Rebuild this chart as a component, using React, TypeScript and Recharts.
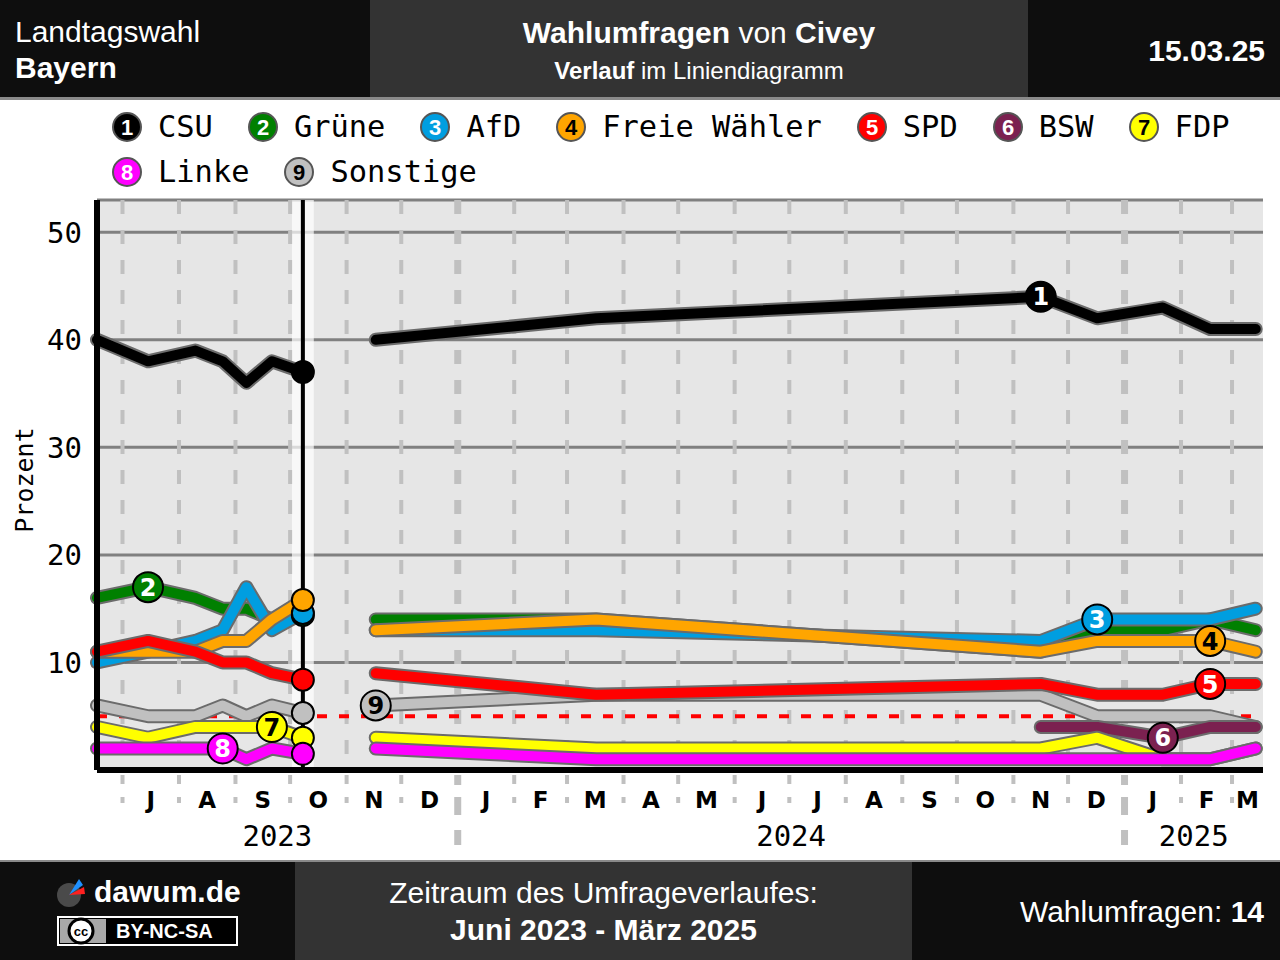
import React from 'react'
import {
  LineChart,
  Line,
  XAxis,
  YAxis,
  CartesianGrid,
  ReferenceLine,
  ReferenceArea,
  ReferenceDot,
} from 'recharts'

// field dates of the Civey polls; index 6 is the election result of 08.10.2023
const rowDates = [
  '2023-06-17', '2023-07-15', '2023-08-10', '2023-08-25', '2023-09-07', '2023-09-21',
  '2023-10-08',
  '2023-11-17', '2024-03-17', '2024-11-16', '2024-12-17', '2025-01-22', '2025-02-17', '2025-03-14',
]
const electionIndex = 6
const gapDate = '2023-10-25'
const domainStart = '2023-06-17'
const domainEnd = '2025-03-18'

const parties = ['CSU', 'Grüne', 'AfD', 'Freie Wähler', 'SPD', 'BSW', 'FDP', 'Linke', 'Sonstige']
const colors = ['#000000', '#008000', '#009ee0', '#ffa500', '#ff0000', '#7b2150', '#ffff00', '#ff00ff', '#c0c0c0']
const numberColors = ['#fff', '#fff', '#fff', '#000', '#fff', '#fff', '#000', '#fff', '#000']

const csu = [40, 38, 39, 38, 36, 38, 37.0, 40, 42, 44, 42, 43, 41, 41]
const gruene = [16, 17, 16, 15, 15, 14, 14.4, 14, 14, 11, 13, 13, 14, 13]
const afd = [10, 11, 12, 13, 17, 13, 14.6, 13, 13, 12, 14, 14, 14, 15]
const fw = [11, 11, 11, 12, 12, 14, 15.8, 13, 14, 11, 12, 12, 12, 11]
const spd = [11, 12, 11, 10, 10, 9, 8.4, 9, 7, 8, 7, 7, 8, 8]
const bsw = [null, null, null, null, null, null, null, null, null, 4, 4, 3, 4, 4]
const fdp = [4, 3, 4, 4, 4, 4, 3.0, 3, 2, 2, 3, 1, 1, 2]
const linke = [2, 2, 2, 2, 1, 2, 1.5, 2, 1, 1, 1, 1, 1, 2]
const sonstige = [6, 5, 5, 6, 5, 6, 5.3, 6, 7, 7, 5, 5, 5, 4]
const series = [csu, gruene, afd, fw, spd, bsw, fdp, linke, sonstige]

// which row carries the numbered badge of each party
const labelIndex = [9, 1, 10, 12, 12, 11, 5, 3, 7]
const drawOrder = [8, 0, 1, 2, 3, 4, 5, 6, 7]

const monthStarts = [
  '2023-07-01', '2023-08-01', '2023-09-01', '2023-10-01', '2023-11-01', '2023-12-01',
  '2024-01-01', '2024-02-01', '2024-03-01', '2024-04-01', '2024-05-01', '2024-06-01',
  '2024-07-01', '2024-08-01', '2024-09-01', '2024-10-01', '2024-11-01', '2024-12-01',
  '2025-01-01', '2025-02-01', '2025-03-01',
]
const monthLetters = ['J', 'A', 'S', 'O', 'N', 'D', 'J', 'F', 'M', 'A', 'M', 'J', 'J', 'A', 'S', 'O', 'N', 'D', 'J', 'F', 'M']
const afterLastMonth = '2025-04-01'
const years = ['2023', '2024', '2025']
const yearStarts = ['2023-01-01', '2024-01-01', '2025-01-01', '2026-01-01']
const yTicks = [10, 20, 30, 40, 50]
const threshold = 5

const day = (s: string) =>
  Date.UTC(Number(s.slice(0, 4)), Number(s.slice(5, 7)) - 1, Number(s.slice(8, 10))) / 86400000

const xMin = day(domainStart)
const xMax = day(domainEnd)

const data: Record<string, number | null | undefined>[] = []
rowDates.forEach((d, i) => {
  const row: Record<string, number | null | undefined> = { t: day(d) }
  series.forEach((s, p) => (row['p' + p] = s[i]))
  data.push(row)
  if (i === electionIndex) data.push({ t: day(gapDate) })
})

type TickInfo = { kind: 'start' | 'month' | 'year'; label: string; jan?: boolean }
const tickInfo = new Map<number, TickInfo>()
monthStarts.forEach((m, i) => {
  const s = day(m)
  const e = day(monthStarts[i + 1] ?? afterLastMonth)
  tickInfo.set(s, { kind: 'start', label: '', jan: m.slice(5, 7) === '01' })
  const mid = (Math.max(s, xMin) + Math.min(e, xMax)) / 2
  tickInfo.set(mid, { kind: 'month', label: monthLetters[i] })
})
years.forEach((y, i) => {
  const mid = (Math.max(day(yearStarts[i]), xMin) + Math.min(day(yearStarts[i + 1]), xMax)) / 2
  tickInfo.set(mid + 0.001, { kind: 'year', label: y })
})
const xTicks = [...tickInfo.keys()].sort((a, b) => a - b)

function AxisTick(props: any) {
  const { x, y, payload } = props
  const info = tickInfo.get(payload.value)
  if (!info) return <g />
  if (info.kind === 'month')
    return (
      <text x={x} y={y + 38} textAnchor="middle" fontFamily="DejaVu Sans" fontWeight="bold" fontSize={23} fill="#000">
        {info.label}
      </text>
    )
  if (info.kind === 'year')
    return (
      <text x={x} y={y + 76} textAnchor="middle" fontFamily="DejaVu Sans Mono" fontSize={29} fill="#000">
        {info.label}
      </text>
    )
  if (info.jan)
    return (
      <g fill="#c0c0c0">
        <rect x={x - 3.5} y={y + 5} width={7} height={10} />
        <rect x={x - 3.5} y={y + 27} width={7} height={18} />
        <rect x={x - 3.5} y={y + 60} width={7} height={15} />
      </g>
    )
  return (
    <g fill="#c0c0c0">
      <rect x={x - 2} y={y + 5} width={4} height={9} />
      <rect x={x - 2} y={y + 27} width={4} height={6} />
    </g>
  )
}

function Badge({ cx, cy, p }: { cx: number; cy: number; p: number }) {
  return (
    <g>
      <circle cx={cx} cy={cy} r={15} fill={colors[p]} stroke="#000" strokeWidth={2} />
      <text x={cx} y={cy} dy="0.36em" textAnchor="middle" fontFamily="DejaVu Sans" fontWeight="bold" fontSize={24} fill={numberColors[p]}>
        {p + 1}
      </text>
    </g>
  )
}

const sans = '"Liberation Sans", Arial, sans-serif'

function Header() {
  return (
    <div style={{ position: 'absolute', left: 0, top: 0, width: 1280, height: 100, fontFamily: sans, color: '#fff' }}>
      <div style={{ position: 'absolute', left: 0, top: 0, width: 370, height: 97, background: '#0e0e0e' }}>
        <div style={{ position: 'absolute', left: 15, top: 17, fontSize: 30, lineHeight: '30px' }}>Landtagswahl</div>
        <div style={{ position: 'absolute', left: 15, top: 53, fontSize: 30, lineHeight: '30px', fontWeight: 700 }}>Bayern</div>
      </div>
      <div style={{ position: 'absolute', left: 370, top: 0, width: 658, height: 97, background: '#333333', textAlign: 'center' }}>
        <div style={{ position: 'absolute', left: 0, right: 0, top: 18, fontSize: 30, lineHeight: '30px' }}>
          <b>Wahlumfragen</b> von <b>Civey</b>
        </div>
        <div style={{ position: 'absolute', left: 0, right: 0, top: 59, fontSize: 24, lineHeight: '24px' }}>
          <b>Verlauf</b> im Liniendiagramm
        </div>
      </div>
      <div style={{ position: 'absolute', left: 1028, top: 0, width: 252, height: 97, background: '#0e0e0e' }}>
        <div style={{ position: 'absolute', right: 15, top: 36, fontSize: 30, lineHeight: '30px', fontWeight: 700 }}>15.03.25</div>
      </div>
      <div style={{ position: 'absolute', left: 0, top: 97, width: 1280, height: 3, background: '#8a8a8a' }} />
    </div>
  )
}

function Legend() {
  return (
    <div
      style={{
        position: 'absolute',
        left: 112,
        top: 104,
        width: 1168,
        display: 'flex',
        flexWrap: 'wrap',
        fontFamily: '"DejaVu Sans Mono", monospace',
        fontSize: 30.4,
        lineHeight: '45px',
        color: '#000',
      }}
    >
      {parties.map((name, p) => (
        <div key={name} style={{ display: 'flex', alignItems: 'center', marginRight: 35, height: 45 }}>
          <svg width={30} height={30} style={{ marginRight: 16, overflow: 'visible' }}>
            <circle cx={15} cy={15} r={14} fill={colors[p]} stroke="#555" strokeWidth={2} />
            <text x={15} y={15} dy="0.36em" textAnchor="middle" fontFamily={sans} fontWeight="bold" fontSize={22} fill={numberColors[p]}>
              {p + 1}
            </text>
          </svg>
          <span style={{ whiteSpace: 'pre' }}>{name}</span>
        </div>
      ))}
    </div>
  )
}

function Footer() {
  return (
    <div style={{ position: 'absolute', left: 0, top: 860, width: 1280, height: 100, fontFamily: sans, color: '#fff' }}>
      <div style={{ position: 'absolute', left: 0, top: 0, width: 1280, height: 2, background: '#8a8a8a' }} />
      <div style={{ position: 'absolute', left: 0, top: 2, width: 295, height: 98, background: '#0e0e0e' }}>
        <svg width={295} height={98} style={{ position: 'absolute', left: 0, top: 0 }}>
          <circle cx={69} cy={33} r={12} fill="#4a4a4a" />
          <path d="M69 33 L79 17 L83 23 Z" fill="#1e90ff" />
          <path d="M69 33 L84 25 L85 32 Z" fill="#ff2020" />
          <rect x={58} y={55} width={179} height={28} fill="#000" stroke="#fff" strokeWidth={2} />
          <rect x={60} y={57} width={46} height={24} fill="#a8a8a8" />
          <circle cx={81} cy={69} r={12} fill="#fff" stroke="#000" strokeWidth={3} />
          <text x={81} y={73.5} textAnchor="middle" fontFamily={sans} fontWeight="bold" fontSize={13} fill="#000">
            cc
          </text>
          <text x={116} y={76} fontFamily={sans} fontWeight="bold" fontSize={20} fill="#fff">
            BY-NC-SA
          </text>
        </svg>
        <div style={{ position: 'absolute', left: 94, top: 15, fontSize: 30, lineHeight: '30px', fontWeight: 700 }}>dawum.de</div>
      </div>
      <div style={{ position: 'absolute', left: 295, top: 2, width: 617, height: 98, background: '#333333', textAlign: 'center' }}>
        <div style={{ position: 'absolute', left: 0, right: 0, top: 16, fontSize: 30, lineHeight: '30px' }}>Zeitraum des Umfrageverlaufes:</div>
        <div style={{ position: 'absolute', left: 0, right: 0, top: 53, fontSize: 30, lineHeight: '30px', fontWeight: 700 }}>
          Juni 2023 - März 2025
        </div>
      </div>
      <div style={{ position: 'absolute', left: 912, top: 2, width: 368, height: 98, background: '#0e0e0e' }}>
        <div style={{ position: 'absolute', right: 16, top: 35, fontSize: 30, lineHeight: '30px', whiteSpace: 'nowrap' }}>
          Wahlumfragen: <b>14</b>
        </div>
      </div>
    </div>
  )
}

export default function App() {
  const electionX = rowDates[electionIndex]
  return (
    <div style={{ position: 'absolute', left: 0, top: 0, width: 1280, height: 960, background: '#fff', overflow: 'hidden' }}>
      <div style={{ position: 'absolute', left: 0, top: 0 }}>
        <LineChart width={1280} height={960} data={data} margin={{ top: 200, right: 17, bottom: 100, left: 0 }}>
          <CartesianGrid fill="#e6e6e6" stroke="#808080" strokeWidth={3} vertical={false} />
          {monthStarts.map((m) => (
            <ReferenceLine
              key={m}
              x={day(m)}
              stroke="#c0c0c0"
              strokeWidth={m.slice(5, 7) === '01' ? 7 : 4}
              strokeDasharray="14 16"
              strokeDashoffset={14}
            />
          ))}
          <ReferenceArea x1={day(electionX) - 6} x2={day(electionX) + 6} fill="#ffffff" fillOpacity={0.7} stroke="none" />
          <ReferenceLine y={threshold} stroke="#ff0000" strokeWidth={4} strokeDasharray="10 12" />
          <ReferenceLine x={day(electionX)} stroke="#000" strokeWidth={4} />
          <XAxis
            dataKey="t"
            type="number"
            domain={[xMin, xMax]}
            ticks={xTicks}
            interval={0}
            tick={(p: any) => <AxisTick {...p} />}
            tickLine={false}
            tickSize={0}
            tickMargin={0}
            axisLine={{ stroke: '#000', strokeWidth: 6 }}
            height={90}
          />
          <YAxis
            type="number"
            domain={[0, 53]}
            ticks={yTicks}
            interval={0}
            tickLine={false}
            tickSize={0}
            tickMargin={15}
            axisLine={{ stroke: '#000', strokeWidth: 6 }}
            tick={{ fontSize: 29, fontFamily: 'DejaVu Sans Mono', fill: '#000' }}
            width={97}
          />
          {drawOrder.flatMap((p) => [
            <Line
              key={'o' + p}
              dataKey={'p' + p}
              stroke="#6b6b6b"
              strokeWidth={14}
              strokeLinecap="round"
              strokeLinejoin="round"
              dot={false}
              activeDot={false}
              connectNulls={false}
              isAnimationActive={false}
            />,
            <Line
              key={'l' + p}
              dataKey={'p' + p}
              stroke={colors[p]}
              strokeWidth={10}
              strokeLinecap="round"
              strokeLinejoin="round"
              dot={false}
              activeDot={false}
              connectNulls={false}
              isAnimationActive={false}
            />,
          ])}
          {drawOrder
            .filter((p) => series[p][electionIndex] != null)
            .map((p) => (
              <ReferenceDot
                key={'e' + p}
                x={day(electionX)}
                y={series[p][electionIndex] as number}
                r={11}
                fill={colors[p]}
                stroke="#000"
                strokeWidth={2}
              />
            ))}
          {drawOrder.map((p) => (
            <ReferenceDot
              key={'b' + p}
              x={day(rowDates[labelIndex[p]])}
              y={series[p][labelIndex[p]] as number}
              r={15}
              shape={(s: any) => <Badge cx={s.cx} cy={s.cy} p={p} />}
            />
          ))}
        </LineChart>
      </div>
      <div
        style={{
          position: 'absolute',
          left: 24,
          top: 480,
          transform: 'translate(-50%, -50%) rotate(-90deg)',
          fontFamily: '"DejaVu Sans Mono", monospace',
          fontSize: 25,
          whiteSpace: 'nowrap',
          color: '#000',
        }}
      >
        Prozent
      </div>
      <Header />
      <Legend />
      <Footer />
    </div>
  )
}
